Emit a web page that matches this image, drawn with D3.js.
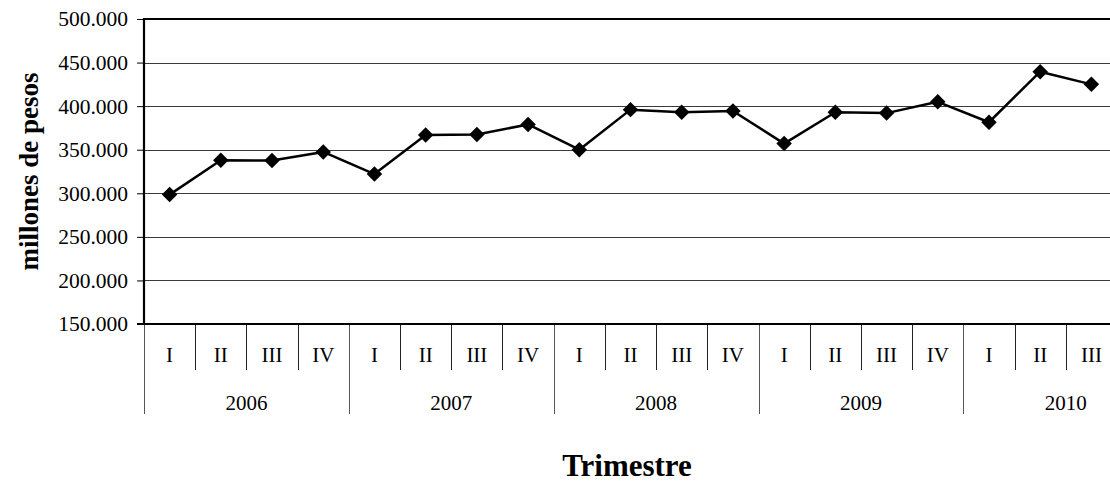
<!DOCTYPE html>
<html>
<head>
<meta charset="utf-8">
<script src="https://cdn.jsdelivr.net/npm/d3@7"></script>
<style>
  html, body { margin: 0; padding: 0; background: #fff; }
  svg { display: block; }
  svg text { font-family: 'Liberation Serif', 'Times New Roman', serif; }
</style>
</head>
<body>
<svg id="chart" width="1110" height="485"></svg>
<script>
// ---- data ----
const quarters = ["I","II","III","IV","I","II","III","IV","I","II","III","IV","I","II","III","IV","I","II","III"];
const quarterYears = [2006,2006,2006,2006,2007,2007,2007,2007,2008,2008,2008,2008,2009,2009,2009,2009,2010,2010,2010];
const years = [2006, 2007, 2008, 2009, 2010];
const values = [298500, 338000, 337500, 347500, 322000, 367000, 367500, 379000, 350000, 396000, 393000, 394500, 357000, 393000, 392000, 405000, 381500, 439500, 425000];
const yTicks = [150000, 200000, 250000, 300000, 350000, 400000, 450000, 500000];
const yTitle = "millones de pesos";
const xTitle = "Trimestre";

(function () {
// ---- layout ----
const svg = d3.select("#chart");
const pLeft = 144, pRight = 1117, pTop = 19, pBottom = 324;
const idx = d3.range(values.length);
const x = d3.scaleBand().domain(idx).range([pLeft, pRight]).padding(0);
const y = d3.scaleLinear().domain([150000, 500000]).range([pBottom, pTop]);
const loc = d3.formatLocale({decimal: ",", thousands: ".", grouping: [3], currency: ["$", ""]});
const fmt = loc.format(",");
const serif = "'Liberation Serif', 'Times New Roman', serif";

// gridlines
svg.append("g").selectAll("line").data(yTicks.filter(t => t > 150000 && t < 500000)).join("line")
  .attr("x1", pLeft).attr("x2", pRight)
  .attr("y1", d => Math.round(y(d)) + 0.5).attr("y2", d => Math.round(y(d)) + 0.5)
  .attr("stroke", "#3a3a3a").attr("stroke-width", 1);

// y axis
const yAxis = d3.axisLeft(y).tickValues(yTicks).tickFormat(fmt).tickSize(7).tickPadding(9);
const yg = svg.append("g").attr("transform", `translate(${pLeft},0)`).call(yAxis)
  .attr("font-family", serif).attr("font-size", 21.5);
yg.select(".domain").remove();
yg.selectAll(".tick line").attr("stroke", "#000").attr("stroke-width", 1);
yg.selectAll(".tick text").attr("fill", "#000");

// top border
svg.append("line").attr("x1", pLeft).attr("x2", pRight).attr("y1", y(500000)).attr("y2", y(500000))
  .attr("stroke", "#000").attr("stroke-width", 2.2);

// quarter separators
const qSep = idx.slice(1).filter(i => quarterYears[i] === quarterYears[i - 1]);
svg.append("g").selectAll("line").data(qSep).join("line")
  .attr("x1", i => Math.round(x(i)) + 0.5).attr("x2", i => Math.round(x(i)) + 0.5)
  .attr("y1", pBottom).attr("y2", 370)
  .attr("stroke", "#222").attr("stroke-width", 1);
// year separators
const ySep = idx.filter(i => i === 0 || quarterYears[i] !== quarterYears[i - 1]);
svg.append("g").selectAll("line").data(ySep).join("line")
  .attr("x1", i => Math.round(x(i)) + 0.5).attr("x2", i => Math.round(x(i)) + 0.5)
  .attr("y1", pBottom).attr("y2", 414)
  .attr("stroke", "#555").attr("stroke-width", 1);

// quarter labels
svg.append("g").selectAll("text").data(idx).join("text")
  .attr("x", i => x(i) + x.bandwidth() / 2).attr("y", 362)
  .attr("text-anchor", "middle")
  .attr("font-family", serif).attr("font-size", 21).attr("fill", "#000")
  .text(i => quarters[i]);

// year labels
svg.append("g").selectAll("text").data(years).join("text")
  .attr("x", yr => {
    const ii = idx.filter(i => quarterYears[i] === yr);
    const x0 = x(ii[0]);
    const x1 = yr === years[years.length - 1] ? x(ii[0]) + 4 * x.bandwidth() : x(ii[ii.length - 1]) + x.bandwidth();
    return (x0 + x1) / 2;
  })
  .attr("y", 410)
  .attr("text-anchor", "middle")
  .attr("font-family", serif).attr("font-size", 21).attr("fill", "#000")
  .text(d => d);

// left axis & bottom axis lines
svg.append("line").attr("x1", pLeft).attr("x2", pLeft).attr("y1", pTop - 1).attr("y2", pBottom)
  .attr("stroke", "#000").attr("stroke-width", 2.2);
svg.append("line").attr("x1", pLeft - 7).attr("x2", pRight).attr("y1", pBottom).attr("y2", pBottom)
  .attr("stroke", "#000").attr("stroke-width", 2.2);

// data line
const line = d3.line().x(i => x(i) + x.bandwidth() / 2).y(i => y(values[i]));
svg.append("path").datum(idx).attr("d", line)
  .attr("fill", "none").attr("stroke", "#000").attr("stroke-width", 2.5).attr("stroke-linejoin", "round");

// diamond markers
svg.append("g").selectAll("path").data(idx).join("path")
  .attr("transform", i => `translate(${x(i) + x.bandwidth() / 2},${y(values[i])}) rotate(45)`)
  .attr("d", d3.symbol().type(d3.symbolSquare).size(120))
  .attr("fill", "#000");

// axis titles
svg.append("text")
  .attr("transform", `translate(38,${(pTop + pBottom) / 2}) rotate(-90)`)
  .attr("text-anchor", "middle")
  .attr("font-family", serif).attr("font-size", 27).attr("font-weight", "bold").attr("fill", "#000")
  .text(yTitle);
svg.append("text")
  .attr("x", 627).attr("y", 476)
  .attr("text-anchor", "middle")
  .attr("font-family", serif).attr("font-size", 31).attr("font-weight", "bold").attr("fill", "#000")
  .text(xTitle);
})();
</script>
</body>
</html>
